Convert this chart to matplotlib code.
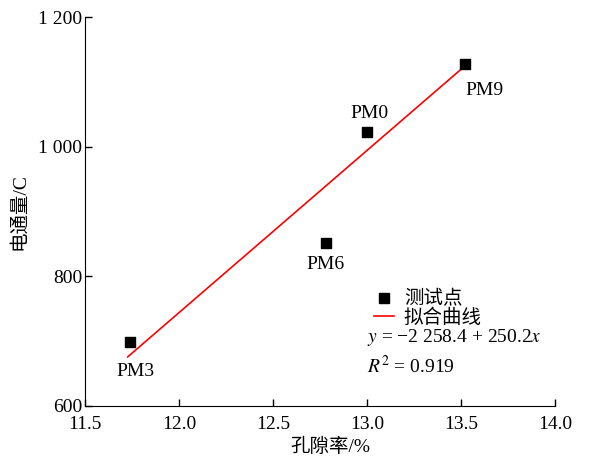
import numpy as np
import matplotlib
matplotlib.use("Agg")
import matplotlib.pyplot as plt
from matplotlib.lines import Line2D

plt.rcParams['font.family'] = ['Liberation Serif', 'Noto Sans CJK SC']
plt.rcParams['mathtext.fontset'] = 'stix'

# porosity (%) vs. electric flux (C)
samples = ['PM3', 'PM6', 'PM0', 'PM9']
porosity = [11.74, 12.78, 13.00, 13.52]
flux = [698, 851, 1023, 1128]
label_offsets = [(4, -21), (0, -15), (2, 13), (14, -19.5)]

# linear fit y = a + b x
fit_a = -2258.4
fit_b = 250.2
fit_r2 = 0.919
fit_range = [11.727, 13.5]

xticks = [11.5, 12.0, 12.5, 13.0, 13.5, 14.0]
yticks = [600, 800, 1000, 1200]
ytick_labels = ['600', '800', '1 000', '1 200']

fig = plt.figure(figsize=(5.96, 4.57), dpi=100)
ax = fig.add_axes([0.1426, 0.1116, 0.7886, 0.8512])

ax.scatter(porosity, flux, marker='s', s=45, color='black', zorder=3)
for name, x, y, off in zip(samples, porosity, flux, label_offsets):
    ax.annotate(name, (x, y), xytext=off, textcoords='offset points',
                ha='center', va='center', fontsize=14)

xs = np.array(fit_range)
ax.plot(xs, fit_a + fit_b * xs, color='red', linewidth=1.2)

ax.set_xlim(11.5, 14.0)
ax.set_ylim(600, 1200)
ax.set_xticks(xticks)
ax.set_xticklabels([f'{v:.1f}' for v in xticks])
ax.set_yticks(yticks)
ax.set_yticklabels(ytick_labels)
ax.tick_params(direction='in', length=5, labelsize=14, width=1, pad=2)
ax.tick_params(axis='x', pad=7.5)
ax.spines['top'].set_visible(False)
ax.spines['right'].set_visible(False)
ax.set_xlabel('孔隙率/%', fontsize=14, labelpad=3, x=0.523)
ax.set_ylabel('电通量/C', fontsize=14, labelpad=7)

handles = [
    Line2D([], [], marker='s', color='black', linestyle='none', markersize=6.5),
    Line2D([], [], color='red', linewidth=1.2),
]
ax.legend(handles, ['测试点', '拟合曲线'], loc='upper left',
          bbox_to_anchor=(0.615, 0.297), frameon=False, fontsize=14,
          handlelength=1.03, handletextpad=0.5, labelspacing=0.0,
          borderaxespad=0, borderpad=0)

ax.text(0.6, 0.177, r'$y$ = −2 258.4 + 250.2$x$', transform=ax.transAxes,
        fontsize=14, va='center')
ax.text(0.6, 0.103, r'$R^2$ = ' + f'{fit_r2}', transform=ax.transAxes,
        fontsize=14, va='center')

fig.savefig('out.png', dpi=100)
